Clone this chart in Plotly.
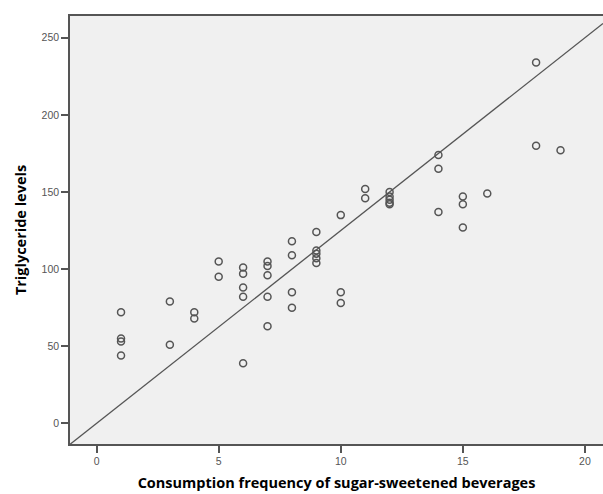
import plotly.graph_objects as go

# Data
freq = [1, 1, 1, 1,
        3, 3,
        4, 4,
        5, 5,
        6, 6, 6, 6, 6,
        7, 7, 7, 7, 7,
        8, 8, 8, 8,
        9, 9, 9, 9, 9,
        10, 10, 10,
        11, 11,
        12, 12, 12, 12, 12,
        14, 14, 14,
        15, 15, 15,
        16,
        18, 18,
        19]
trig = [72, 55, 53, 44,
        79, 51,
        72, 68,
        105, 95,
        101, 97, 88, 82, 39,
        105, 102, 96, 82, 63,
        118, 109, 85, 75,
        124, 112, 110, 107, 104,
        135, 85, 78,
        152, 146,
        150, 147, 145, 143, 142,
        174, 165, 137,
        147, 142, 127,
        149,
        234, 180,
        177]

# Reference line (y = slope * x)
line_slope = 12.5
x_range = [-1.09, 20.74]
y_range = [-13.4, 264.1]
x_ticks = [0, 5, 10, 15, 20]
y_ticks = [0, 50, 100, 150, 200, 250]

fig = go.Figure()
fig.add_trace(go.Scatter(
    x=x_range, y=[line_slope * v for v in x_range],
    mode="lines", line=dict(color="#555555", width=1.3),
    hoverinfo="skip", showlegend=False))
fig.add_trace(go.Scatter(
    x=freq, y=trig, mode="markers",
    marker=dict(symbol="circle-open", size=7, color="#555555",
                line=dict(width=1.5, color="#555555")),
    showlegend=False))

tick_font = dict(family="Liberation Sans Narrow, Arial Narrow, sans-serif", size=10.5, color="#555555")
title_font = dict(family="Open Sans, sans-serif", size=14.5, color="#000000")

fig.update_layout(
    width=603, height=494,
    margin=dict(l=70, r=0, t=16, b=50),
    paper_bgcolor="white", plot_bgcolor="#f0f0f0",
    xaxis=dict(range=x_range, tickvals=x_ticks, ticks="outside", ticklen=7, tickwidth=1.5,
               tickcolor="#555555", tickfont=tick_font, showgrid=False, zeroline=False,
               showline=True, linecolor="#555555", linewidth=1.5, mirror=True,
               title=dict(text="<b>Consumption frequency of sugar-sweetened beverages</b>",
                          font=title_font, standoff=12)),
    yaxis=dict(range=y_range, tickvals=y_ticks, ticks="outside", ticklen=7, tickwidth=1.5,
               tickcolor="#555555", tickfont=tick_font, showgrid=False, zeroline=False,
               showline=True, linecolor="#555555", linewidth=1.5, mirror=False,
               title=dict(text="<b>Triglyceride levels</b>", font=title_font, standoff=12)),
)

fig.write_html("out.html", config={"displayModeBar": False},
               post_script="document.body.style.margin='0px';document.body.style.overflow='hidden';")
